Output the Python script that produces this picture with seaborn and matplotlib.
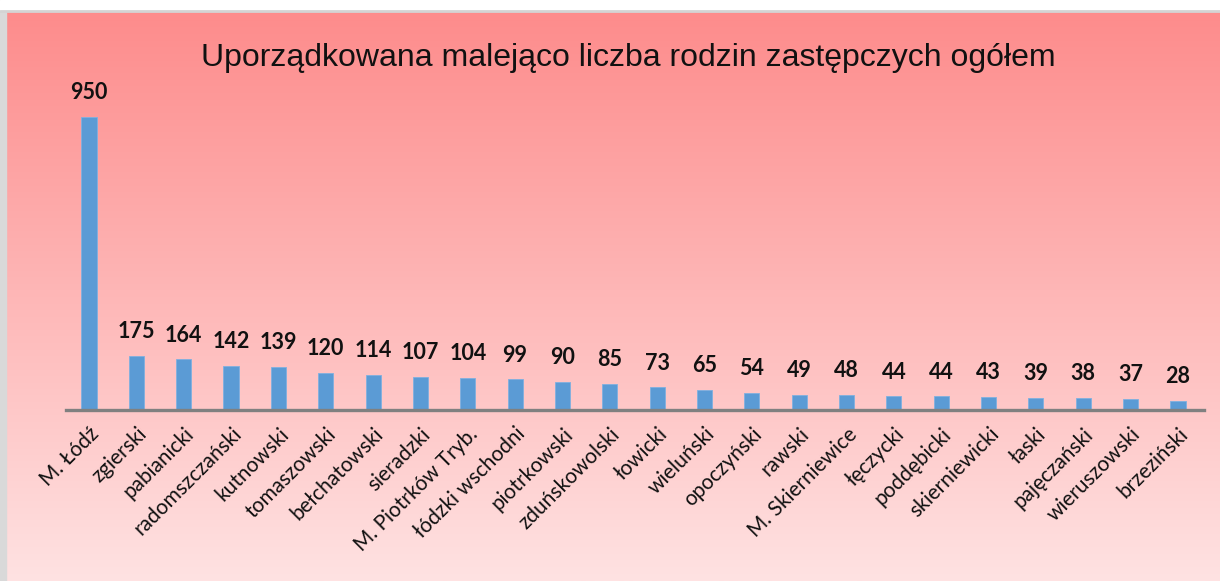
import numpy as np
import pandas as pd
import matplotlib
matplotlib.use("Agg")
import matplotlib.pyplot as plt
import seaborn as sns

# data
powiaty = ["M. Łódź", "zgierski", "pabianicki", "radomszczański", "kutnowski",
           "tomaszowski", "bełchatowski", "sieradzki", "M. Piotrków Tryb.",
           "łódzki wschodni", "piotrkowski", "zduńskowolski", "łowicki",
           "wieluński", "opoczyński", "rawski", "M. Skierniewice", "łęczycki",
           "poddębicki", "skierniewicki", "łaski", "pajęczański",
           "wieruszowski", "brzeziński"]
rodziny = [950, 175, 164, 142, 139, 120, 114, 107, 104, 99, 90, 85, 73,
           65, 54, 49, 48, 44, 44, 43, 39, 38, 37, 28]
tytul = "Uporządkowana malejąco liczba rodzin zastępczych ogółem"

data = pd.DataFrame({"powiat": powiaty, "liczba": rodziny})

sns.set_style("white")
plt.rcParams["font.family"] = ["Lato", "DejaVu Sans"]

fig = plt.figure(figsize=(12.2, 5.81), dpi=100)

# gradient background of the chart area
bg = fig.add_axes([0, 0, 1, 1], zorder=0)
grad = np.linspace(0, 1, 256).reshape(-1, 1)
top = np.array([253, 138, 138]) / 255
bottom = np.array([255, 226, 226]) / 255
img = top + (bottom - top) * grad[:, :, None]
bg.imshow(img, aspect="auto", extent=[0, 1, 0, 1], origin="upper")
bg.set_xlim(0, 1)
bg.set_ylim(0, 1)
# frame: white strip on top, gray edges
bg.axvspan(0, 6 / 1220, color="#d9d9d9")
bg.axhspan(1 - 10 / 581, 1, color="white")
bg.axhline(1 - 11 / 581, color="#d4d4d4", lw=2)
bg.axis("off")

ax = fig.add_axes([66 / 1220, 171 / 581, 1138 / 1220, 350 / 581], zorder=1)
ax.patch.set_alpha(0)
sns.barplot(data=data, x="powiat", y="liczba", color="#5b9bd5",
            width=0.32, saturation=1, ax=ax, edgecolor="#7fb0e0", linewidth=0.6)

ax.set_ylim(0, 1135)
ax.set_xlim(-0.486, 23.55)
for i, v in enumerate(rodziny):
    ax.annotate(str(v), (i, v), xytext=(0, 10), textcoords="offset points",
                ha="center", va="bottom", fontsize=15.5, fontweight="bold",
                color="#111111")

ax.set_xlabel("")
ax.set_ylabel("")
ax.set_yticks([])
ax.tick_params(axis="x", length=0, pad=10)
plt.setp(ax.get_xticklabels(), rotation=45, ha="right", rotation_mode="anchor",
         fontsize=15, color="#111111")
for s in ["top", "right", "left"]:
    ax.spines[s].set_visible(False)
ax.spines["bottom"].set_color("#808080")
ax.spines["bottom"].set_linewidth(2.4)

fig.text(628 / 1220, 1 - 58 / 581, tytul, ha="center", va="center",
         fontsize=23, family=["Liberation Sans"], color="#111111")

fig.savefig("out.png", dpi=100)
